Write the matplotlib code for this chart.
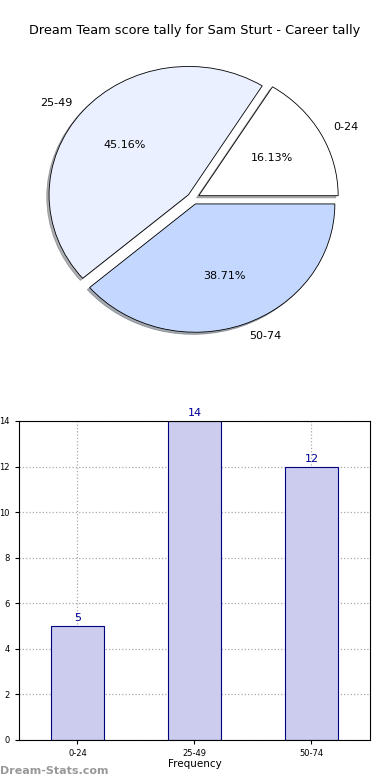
import matplotlib
matplotlib.use("Agg")
import matplotlib.pyplot as plt

categories = ["0-24", "25-49", "50-74"]
counts = [5, 14, 12]
pie_colors = ["#ffffff", "#eaf0ff", "#c4d8ff"]
title = "Dream Team score tally for Sam Sturt - Career tally"
yticks = [0, 2, 4, 6, 8, 10, 12, 14]

fig = plt.figure(figsize=(3.9, 7.8), dpi=100)
fig.patch.set_facecolor("white")

# Pie
axp = fig.add_axes([0.138, 0.581, 0.715, 0.329])
wedges, texts, autotexts = axp.pie(
    counts, labels=categories, colors=pie_colors, explode=[0.045] * 3,
    autopct="%1.2f%%", shadow={"ox": -0.012, "oy": -0.012, "shade": 0.6},
    startangle=0, counterclock=True,
    wedgeprops=dict(edgecolor="black", linewidth=0.6),
    textprops=dict(fontsize=8))
axp.set_aspect("auto")
axp.set_xlim(-1.0, 1.0)
axp.set_ylim(-1.0, 1.0)
fig.text(0.5, 0.961, title, ha="center", va="center", fontsize=9.3)

# Bar
axb = fig.add_axes([0.0487, 0.0513, 0.9, 0.409])
x = list(range(len(categories)))
bars = axb.bar(x, counts, width=0.45, color="#ccccee", edgecolor="#000080", linewidth=0.8, zorder=2)
for xi, c in zip(x, counts):
    axb.text(xi, c + 0.12, str(c), ha="center", va="bottom", fontsize=8, color="#000099")
axb.set_xlim(-0.5, 2.5)
axb.set_ylim(0, 14)
axb.set_yticks(yticks)
axb.set_xticks(x)
axb.set_xticklabels(categories)
axb.tick_params(labelsize=6, length=3)
axb.grid(True, linestyle=":", color="#aaaaaa", linewidth=0.9, zorder=0)
axb.set_axisbelow(True)
axb.set_xlabel("Frequency", fontsize=7.5, labelpad=1)
axb.set_ylabel("Scores within Tally", fontsize=7.5, labelpad=4)
for s in axb.spines.values():
    s.set_linewidth(0.8)

fig.text(0.0, 0.012, "Dream-Stats.com", fontsize=8, color="#999999", fontweight="bold", ha="left", va="center")

fig.savefig("out.png", dpi=100)
